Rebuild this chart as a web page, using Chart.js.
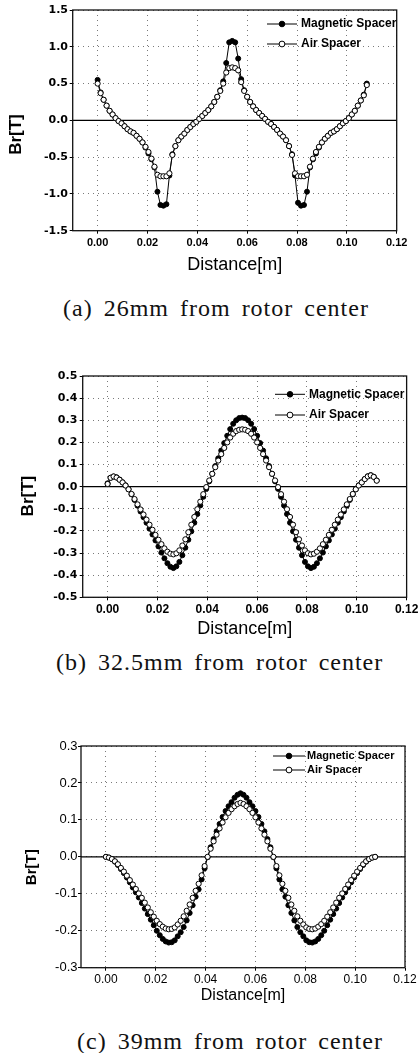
<!DOCTYPE html>
<html><head><meta charset="utf-8">
<script src="https://cdn.jsdelivr.net/npm/chart.js@4.4.1/dist/chart.umd.min.js"></script>
<style>
html,body{margin:0;padding:0;background:#fff;}
body{width:420px;height:1053px;position:relative;overflow:hidden;}
.box{position:absolute;left:0;width:420px;}
.cap{position:absolute;font-family:"Liberation Serif","DejaVu Serif",serif;font-size:24px;letter-spacing:1px;word-spacing:4px;color:#111;white-space:nowrap;line-height:26px;}
</style></head><body>
<div class="box" style="top:0px;height:285px"><canvas id="ca" width="420" height="285"></canvas></div>
<div class="cap" style="top:295px;left:63px">(a) 26mm from rotor center</div>
<div class="box" style="top:340px;height:300px"><canvas id="cb" width="420" height="300"></canvas></div>
<div class="cap" style="top:649px;left:56px">(b) 32.5mm from rotor center</div>
<div class="box" style="top:700px;height:310px"><canvas id="cc" width="420" height="310"></canvas></div>
<div class="cap" style="top:1028px;left:77px">(c) 39mm from rotor center</div>
<script>
// ---- data ----
const distance = [
 0.0000,0.0012,0.0024,0.0036,0.0048,0.0060,0.0072,0.0084,0.0096,0.0108,
 0.0120,0.0132,0.0144,0.0156,0.0168,0.0180,0.0192,0.0204,0.0216,0.0228,
 0.0240,0.0252,0.0264,0.0276,0.0288,0.0300,0.0312,0.0324,0.0336,0.0348,
 0.0360,0.0372,0.0384,0.0396,0.0408,0.0420,0.0432,0.0444,0.0456,0.0468,
 0.0480,0.0492,0.0504,0.0516,0.0528,0.0540,0.0552,0.0564,0.0576,0.0588,
 0.0600,0.0612,0.0624,0.0636,0.0648,0.0660,0.0672,0.0684,0.0696,0.0708,
 0.0720,0.0732,0.0744,0.0756,0.0768,0.0780,0.0792,0.0804,0.0816,0.0828,
 0.0840,0.0852,0.0864,0.0876,0.0888,0.0900,0.0912,0.0924,0.0936,0.0948,
 0.0960,0.0972,0.0984,0.0996,0.1008,0.1020,0.1032,0.1044,0.1056,0.1068,
 0.1080];

const magA = [
 0.55,0.38,0.28,0.20,0.13,0.08,0.03,-0.01,-0.04,-0.08,
 -0.12,-0.15,-0.17,-0.21,-0.25,-0.30,-0.37,-0.45,-0.53,-0.64,
 -0.97,-1.15,-1.16,-1.14,-0.75,-0.46,-0.35,-0.27,-0.22,-0.18,
 -0.13,-0.09,-0.05,-0.02,0.02,0.06,0.10,0.14,0.19,0.25,
 0.32,0.41,0.53,0.78,1.06,1.08,1.06,0.84,0.56,0.41,
 0.32,0.25,0.19,0.14,0.10,0.06,0.02,-0.02,-0.05,-0.09,
 -0.13,-0.18,-0.22,-0.27,-0.35,-0.46,-0.75,-1.12,-1.16,-1.15,
 -0.97,-0.64,-0.53,-0.45,-0.37,-0.30,-0.25,-0.21,-0.17,-0.15,
 -0.12,-0.08,-0.04,-0.01,0.03,0.08,0.13,0.20,0.27,0.35,
 0.50];
const airA = [
 0.50,0.37,0.28,0.20,0.13,0.08,0.03,-0.01,-0.04,-0.08,
 -0.12,-0.15,-0.17,-0.21,-0.25,-0.30,-0.36,-0.43,-0.52,-0.63,
 -0.74,-0.76,-0.76,-0.76,-0.72,-0.47,-0.35,-0.27,-0.22,-0.18,
 -0.13,-0.09,-0.05,-0.02,0.02,0.06,0.10,0.14,0.19,0.25,
 0.32,0.40,0.50,0.65,0.71,0.72,0.71,0.68,0.52,0.40,
 0.32,0.25,0.19,0.14,0.10,0.06,0.02,-0.02,-0.05,-0.09,
 -0.13,-0.18,-0.22,-0.27,-0.35,-0.47,-0.72,-0.76,-0.76,-0.76,
 -0.74,-0.63,-0.52,-0.43,-0.36,-0.30,-0.25,-0.21,-0.17,-0.15,
 -0.12,-0.08,-0.04,-0.01,0.03,0.08,0.13,0.20,0.27,0.34,
 0.48];

const magB = [
 0.015,0.040,0.046,0.042,0.032,0.020,0.006,-0.012,-0.035,-0.060,
 -0.086,-0.112,-0.138,-0.163,-0.190,-0.216,-0.243,-0.270,-0.298,-0.324,
 -0.346,-0.362,-0.368,-0.360,-0.340,-0.310,-0.276,-0.240,-0.202,-0.163,
 -0.124,-0.085,-0.046,-0.010,0.024,0.058,0.093,0.128,0.163,0.197,
 0.230,0.260,0.284,0.300,0.310,0.312,0.310,0.300,0.284,0.260,
 0.230,0.197,0.163,0.128,0.093,0.058,0.024,-0.010,-0.046,-0.085,
 -0.124,-0.163,-0.202,-0.240,-0.276,-0.310,-0.340,-0.360,-0.368,-0.362,
 -0.346,-0.324,-0.298,-0.270,-0.243,-0.216,-0.190,-0.163,-0.138,-0.112,
 -0.086,-0.060,-0.035,-0.012,0.006,0.020,0.035,0.047,0.052,0.045,
 0.028];
const airB = [
 0.012,0.040,0.046,0.041,0.031,0.019,0.005,-0.012,-0.033,-0.056,
 -0.080,-0.103,-0.126,-0.149,-0.172,-0.195,-0.218,-0.240,-0.260,-0.279,
 -0.294,-0.303,-0.306,-0.301,-0.288,-0.266,-0.238,-0.206,-0.172,-0.137,
 -0.102,-0.068,-0.034,-0.002,0.028,0.058,0.088,0.118,0.147,0.175,
 0.200,0.222,0.239,0.251,0.257,0.259,0.257,0.251,0.239,0.222,
 0.200,0.175,0.147,0.118,0.088,0.058,0.028,-0.002,-0.034,-0.068,
 -0.102,-0.137,-0.172,-0.206,-0.238,-0.266,-0.288,-0.301,-0.306,-0.303,
 -0.294,-0.279,-0.260,-0.240,-0.218,-0.195,-0.172,-0.149,-0.126,-0.103,
 -0.080,-0.056,-0.033,-0.012,0.005,0.019,0.034,0.046,0.051,0.044,
 0.027];

const magC = [
 0.000,-0.002,-0.006,-0.013,-0.022,-0.033,-0.044,-0.056,-0.069,-0.083,
 -0.096,-0.110,-0.125,-0.140,-0.155,-0.170,-0.185,-0.200,-0.212,-0.222,
 -0.229,-0.232,-0.231,-0.226,-0.215,-0.204,-0.190,-0.172,-0.152,-0.131,
 -0.108,-0.088,-0.061,-0.031,-0.001,0.026,0.048,0.069,0.089,0.108,
 0.124,0.137,0.148,0.160,0.168,0.172,0.168,0.160,0.148,0.137,
 0.124,0.108,0.089,0.069,0.048,0.026,-0.001,-0.031,-0.061,-0.088,
 -0.108,-0.131,-0.152,-0.172,-0.190,-0.204,-0.215,-0.226,-0.231,-0.232,
 -0.229,-0.222,-0.212,-0.200,-0.185,-0.170,-0.155,-0.140,-0.125,-0.110,
 -0.096,-0.083,-0.069,-0.056,-0.044,-0.033,-0.022,-0.013,-0.006,-0.002,
 0.000];
const airC = [
 0.000,-0.002,-0.006,-0.012,-0.020,-0.030,-0.040,-0.051,-0.063,-0.075,
 -0.087,-0.099,-0.111,-0.124,-0.137,-0.150,-0.162,-0.173,-0.182,-0.189,
 -0.194,-0.196,-0.195,-0.191,-0.183,-0.173,-0.161,-0.146,-0.129,-0.111,
 -0.092,-0.073,-0.050,-0.025,0.000,0.022,0.042,0.060,0.077,0.093,
 0.107,0.119,0.129,0.137,0.143,0.146,0.143,0.137,0.129,0.119,
 0.107,0.093,0.077,0.060,0.042,0.022,0.000,-0.025,-0.050,-0.073,
 -0.092,-0.111,-0.129,-0.146,-0.161,-0.173,-0.183,-0.191,-0.195,-0.196,
 -0.194,-0.189,-0.182,-0.173,-0.162,-0.150,-0.137,-0.124,-0.111,-0.099,
 -0.087,-0.075,-0.063,-0.051,-0.040,-0.030,-0.020,-0.012,-0.006,-0.002,
 0.000];

const xTicks = [0.00,0.02,0.04,0.06,0.08,0.10,0.12];
const yTicksA = [-1.5,-1.0,-0.5,0.0,0.5,1.0,1.5];
const yTicksB = [-0.5,-0.4,-0.3,-0.2,-0.1,0.0,0.1,0.2,0.3,0.4,0.5];
const yTicksC = [-0.3,-0.2,-0.1,0.0,0.1,0.2,0.3];
const seriesNames = ['Magnetic Spacer','Air Spacer'];
const xTitle = 'Distance[m]';
const yTitle = 'Br[T]';

// ---- plugins ----
const framePlugin = {
  id:'frame',
  beforeDatasetsDraw(chart){
    const {ctx, chartArea:a, scales:{y}} = chart;
    const y0 = y.getPixelForValue(0);
    ctx.save();
    ctx.strokeStyle='#000'; ctx.lineWidth=1.2;
    ctx.beginPath(); ctx.moveTo(a.left,y0); ctx.lineTo(a.right,y0); ctx.stroke();
    ctx.restore();
  },
  afterDraw(chart){
    const {ctx, chartArea:a} = chart;
    ctx.save();
    ctx.strokeStyle='#111'; ctx.lineWidth=1.3;
    ctx.strokeRect(a.left,a.top,a.right-a.left,a.bottom-a.top);
    ctx.restore();
  }
};
const legendPlugin = {
  id:'insideLegend',
  afterDraw(chart, args, o){
    const ctx = chart.ctx;
    chart.data.datasets.forEach((ds,i)=>{
      const y = o.y + i*o.gap;
      ctx.save();
      ctx.strokeStyle='#000'; ctx.lineWidth=1;
      ctx.beginPath(); ctx.moveTo(o.x,y); ctx.lineTo(o.x+o.len,y); ctx.stroke();
      ctx.beginPath(); ctx.arc(o.x+o.len/2,y,ds.pointRadius+0.3,0,Math.PI*2);
      ctx.fillStyle=ds.pointBackgroundColor; ctx.fill();
      ctx.lineWidth=ds.pointBorderWidth; ctx.strokeStyle=ds.pointBorderColor; ctx.stroke();
      ctx.fillStyle='#000'; ctx.font=o.font; ctx.textBaseline='middle'; ctx.textAlign='left';
      ctx.fillText(ds.label, o.x+o.len+o.tgap, y);
      ctx.restore();
    });
  }
};

function pts(ys){ return distance.map((x,i)=>({x:x,y:ys[i]})); }

function makeChart(id, P){
  const area = P.area;
  return new Chart(document.getElementById(id), {
    type:'line',
    data:{datasets:[
      {label:seriesNames[0], data:pts(P.mag), order:2, borderColor:'#000', borderWidth:1,
       pointRadius:P.rM, pointBackgroundColor:'#000', pointBorderColor:'#000', pointBorderWidth:1, tension:0},
      {label:seriesNames[1], data:pts(P.air), order:1, borderColor:'#000', borderWidth:0.8,
       pointRadius:P.rA, pointBackgroundColor:'#fff', pointBorderColor:'#000', pointBorderWidth:1, tension:0}
    ]},
    options:{
      responsive:false, animation:false, devicePixelRatio:1,
      layout:{padding:{top:area.top,left:0,right:420-area.right,bottom:0}},
      plugins:{legend:{display:false}, tooltip:{enabled:false},
        insideLegend:P.legend},
      scales:{
        x:{type:'linear', min:-0.01, max:0.12,
          afterBuildTicks:s=>{ s.ticks = xTicks.map(v=>({value:v})); },
          afterFit:s=>{ s.height = P.h - area.bottom; },
          ticks:{callback:v=>Number(v).toFixed(2), maxRotation:0, autoSkip:false,
            font:P.xTickFont, color:'#000', padding:P.xTickPad},
          grid:{color:'#7a7a7a', lineWidth:1, drawTicks:true, tickLength:3, tickColor:'#000', tickBorderDash:[]},
          border:{display:false, dash:[1,4]},
          title:{display:true, text:xTitle, font:P.xTitleFont, color:'#000', padding:{top:0,bottom:P.xTitlePad}}
        },
        y:{type:'linear', min:P.yTicks[0], max:P.yTicks[P.yTicks.length-1],
          afterBuildTicks:s=>{ s.ticks = P.yTicks.map(v=>({value:v})); },
          afterFit:s=>{ s.width = area.left; },
          ticks:{callback:v=>Number(v).toFixed(1), autoSkip:false,
            font:P.yTickFont, color:'#000', padding:P.yTickPad},
          grid:{color:'#7a7a7a', lineWidth:1, drawTicks:true, tickLength:3, tickColor:'#000', tickBorderDash:[]},
          border:{display:false, dash:[1,4]},
          title:{display:true, text:yTitle+P.yTitleSpace, font:P.yTitleFont, color:'#000', padding:{top:P.yTitlePad,bottom:0}}
        }
      }
    },
    plugins:[framePlugin, legendPlugin]
  });
}

const SANS = '"Liberation Sans", Arial, sans-serif';
const DJ = '"DejaVu Sans", sans-serif';

makeChart('ca', {
  h:285, area:{top:10,left:72.7,right:396.7,bottom:230.7},
  mag:magA, air:airA, yTicks:yTicksA, rM:2.5, rA:2.6,
  xTickFont:{family:SANS,size:11,weight:'bold'}, xTickPad:2.4,
  yTickFont:{family:DJ,size:11,weight:'bold'}, yTickPad:1.7,
  xTitleFont:{family:SANS,size:18}, xTitlePad:9.2,
  yTitleFont:{family:SANS,size:17,weight:'bold'}, yTitlePad:6.5, yTitleSpace:'      ',
  legend:{x:267,y:24,len:30,gap:20,tgap:4,font:'bold 12px '+SANS}
});
makeChart('cb', {
  h:300, area:{top:36,left:82.7,right:406.7,bottom:257.3},
  mag:magB, air:airB, yTicks:yTicksB, rM:2.5, rA:2.6,
  xTickFont:{family:SANS,size:12,weight:'bold'}, xTickPad:1.7,
  yTickFont:{family:DJ,size:11,weight:'bold'}, yTickPad:2.4,
  xTitleFont:{family:SANS,size:18}, xTitlePad:0.2,
  yTitleFont:{family:SANS,size:17,weight:'bold'}, yTitlePad:18, yTitleSpace:'    ',
  legend:{x:275,y:54.3,len:30,gap:20.7,tgap:4,font:'bold 12px '+SANS}
});
makeChart('cc', {
  h:310, area:{top:46,left:81,right:405,bottom:267.7},
  mag:magC, air:airC, yTicks:yTicksC, rM:2.5, rA:2.6,
  xTickFont:{family:SANS,size:12}, xTickPad:2.1,
  yTickFont:{family:SANS,size:13}, yTickPad:0.5,
  xTitleFont:{family:SANS,size:16}, xTitlePad:5,
  yTitleFont:{family:SANS,size:15,weight:'bold'}, yTitlePad:23, yTitleSpace:'     ',
  legend:{x:273,y:56,len:32,gap:14,tgap:2,font:'bold 11px '+SANS}
});
</script>
</body></html>
